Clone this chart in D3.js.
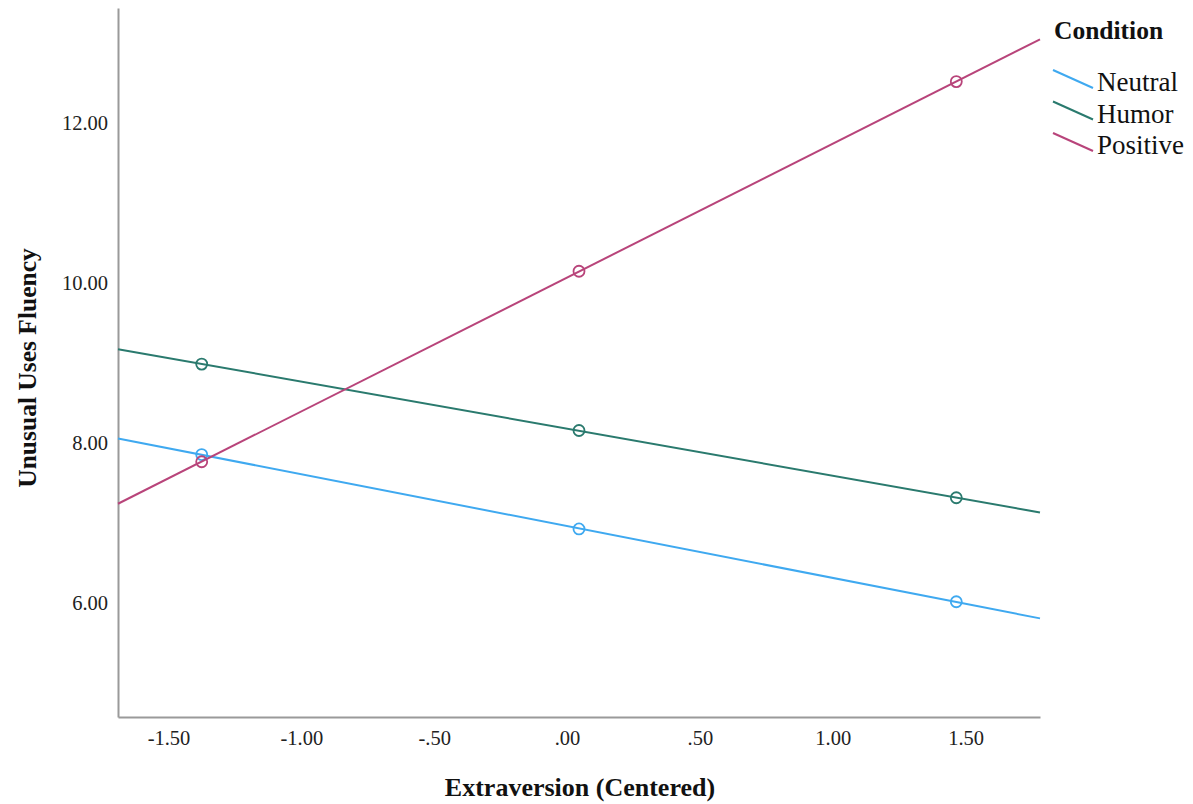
<!DOCTYPE html>
<html>
<head>
<meta charset="utf-8">
<script src="https://cdn.jsdelivr.net/npm/d3@7"></script>
<style>
  body { margin: 0; background: #fff; }
  svg text { font-family: "Liberation Serif", "DejaVu Serif", serif; fill: #111; }
</style>
</head>
<body>
<div id="chart"></div>
<script>
// values
var conditions = ["Neutral", "Humor", "Positive"];
var colors = ["#3fa9f0", "#2a7a6e", "#b8447a"];
var xPoints = [-1.375, 0.045, 1.465];
var neutralVals = [7.86, 6.93, 6.02];
var humorVals = [8.99, 8.16, 7.32];
var positiveVals = [7.77, 10.15, 12.52];
var xTicks = [-1.5, -1.0, -0.5, 0, 0.5, 1.0, 1.5];
var yTicks = [6, 8, 10, 12];

var seriesVals = [neutralVals, humorVals, positiveVals];

var W = 1193, H = 804;
var margin = {top: 8, right: 153, bottom: 87, left: 118},
    width = W - margin.left - margin.right,
    height = H - margin.top - margin.bottom;

var svg = d3.select("#chart").append("svg")
    .attr("width", W)
    .attr("height", H);

var g = svg.append("g")
    .attr("transform", "translate(" + margin.left + "," + margin.top + ")");

var x = d3.scaleLinear().domain([-1.69, 1.78]).range([0, width]);
var y = d3.scaleLinear().domain([4.58, 13.44]).range([height, 0]);

// SPSS style: "-.50", ".00", plain hyphen
var fmt = function(d) {
    var s = Math.abs(d).toFixed(2).replace(/^0\./, ".");
    return (d < 0 ? "-" : "") + s;
};

// axes, no tick marks
var xAxis = g.append("g")
    .attr("transform", "translate(0," + height + ")")
    .call(d3.axisBottom(x).tickValues(xTicks).tickSize(0).tickPadding(13).tickFormat(fmt));
var yAxis = g.append("g")
    .call(d3.axisLeft(y).tickValues(yTicks).tickSize(0).tickPadding(10).tickFormat(fmt));

[xAxis, yAxis].forEach(function(a) {
    a.select(".domain").attr("stroke", "#9a9a9a").attr("stroke-width", 2);
    a.selectAll("text")
        .style("font-family", "'Liberation Serif', serif")
        .style("font-size", "20.5px")
        .style("fill", "#222");
});

// fit lines, extended across the plot
seriesVals.forEach(function(vals, i) {
    var mx = d3.mean(xPoints), my = d3.mean(vals);
    var sxy = d3.sum(xPoints, function(xv, k) { return (xv - mx) * (vals[k] - my); });
    var sxx = d3.sum(xPoints, function(xv) { return (xv - mx) * (xv - mx); });
    var b = sxy / sxx, a = my - b * mx;
    var ends = x.domain().map(function(xv) { return [xv, a + b * xv]; });

    g.append("path")
        .datum(ends)
        .attr("fill", "none")
        .attr("stroke", colors[i])
        .attr("stroke-width", 2)
        .attr("d", d3.line().x(function(d) { return x(d[0]); }).y(function(d) { return y(d[1]); }));

    g.selectAll(".pt" + i)
        .data(vals)
        .enter().append("circle")
        .attr("class", "pt" + i)
        .attr("cx", function(d, k) { return x(xPoints[k]); })
        .attr("cy", function(d) { return y(d); })
        .attr("r", 5.5)
        .attr("fill", "none")
        .attr("stroke", colors[i])
        .attr("stroke-width", 1.8);
});

// axis titles
svg.append("text")
    .attr("x", 580)
    .attr("y", 796)
    .attr("text-anchor", "middle")
    .style("font-size", "26px")
    .style("font-weight", "bold")
    .text("Extraversion (Centered)");

svg.append("text")
    .attr("transform", "translate(36,368) rotate(-90)")
    .attr("text-anchor", "middle")
    .style("font-size", "25.5px")
    .style("font-weight", "bold")
    .text("Unusual Uses Fluency");

// legend
var lg = svg.append("g").attr("transform", "translate(1053,0)");
lg.append("text")
    .attr("x", 1)
    .attr("y", 39)
    .style("font-size", "25.5px")
    .style("font-weight", "bold")
    .text("Condition");

conditions.forEach(function(c, i) {
    var yy = 70 + i * 31.5;
    lg.append("line")
        .attr("x1", 0).attr("y1", yy)
        .attr("x2", 40).attr("y2", yy + 18)
        .attr("stroke", colors[i])
        .attr("stroke-width", 2);
    lg.append("text")
        .attr("x", 44)
        .attr("y", yy + 21)
        .style("font-size", "27px")
        .text(c);
});
</script>
</body>
</html>
